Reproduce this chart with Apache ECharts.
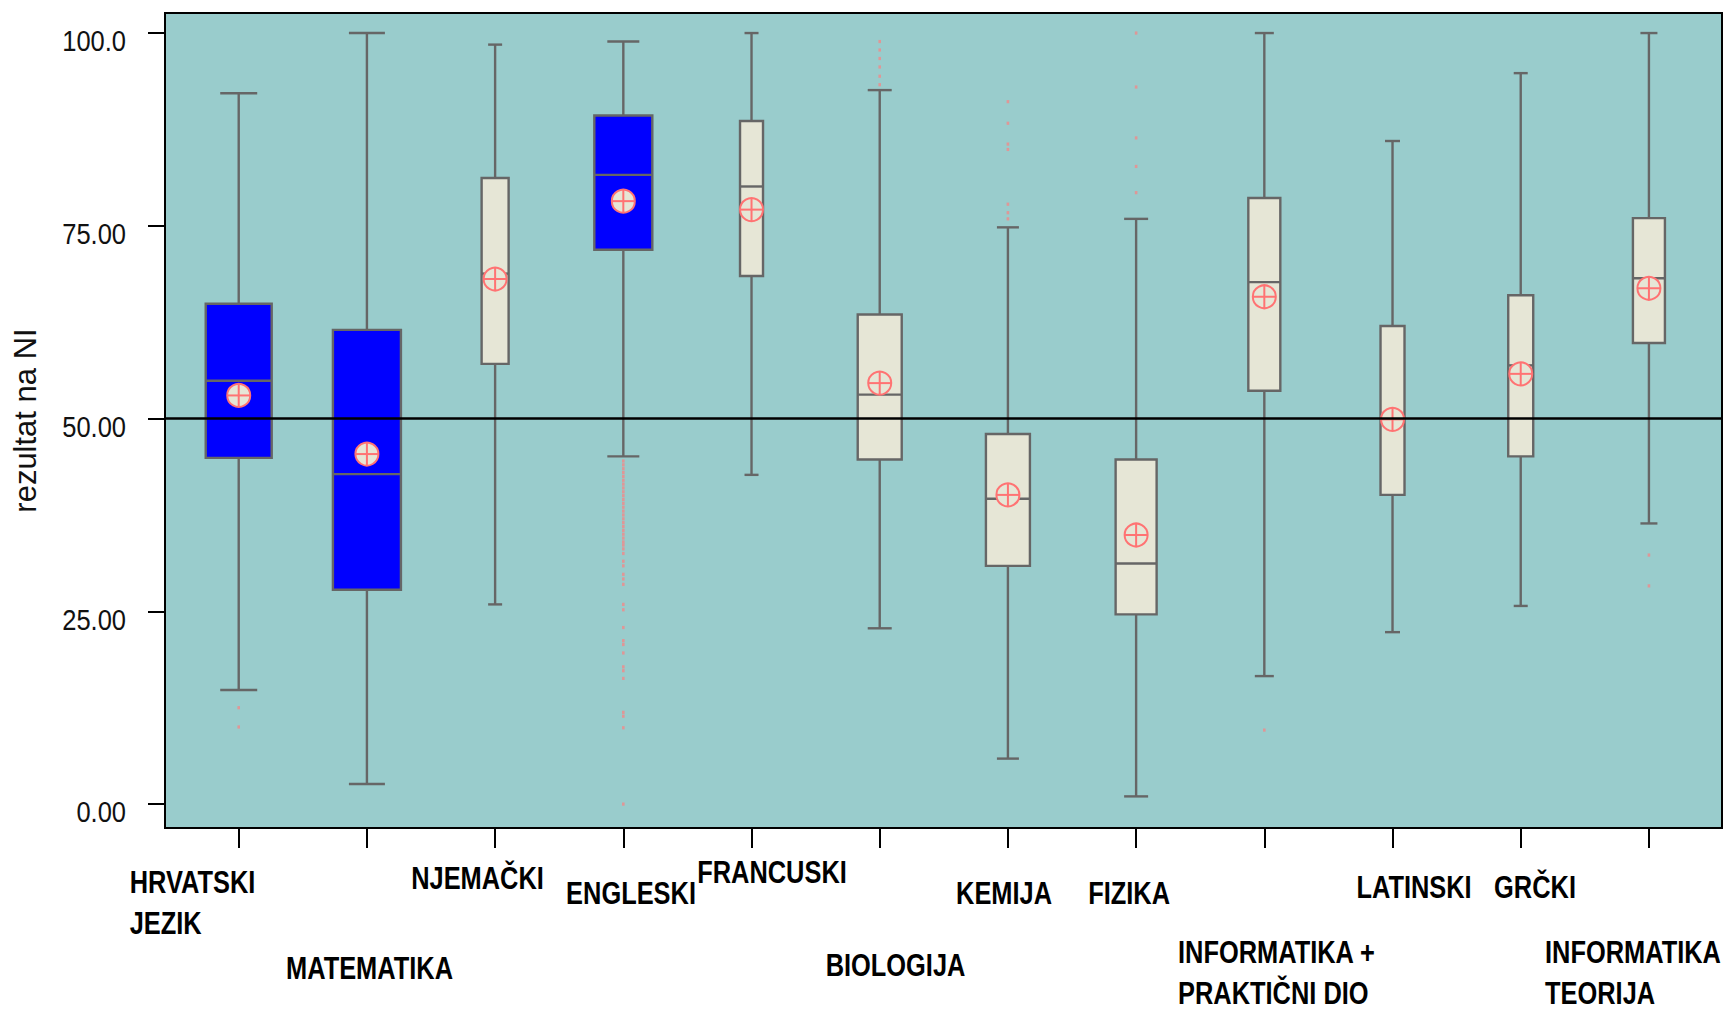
<!DOCTYPE html>
<html>
<head>
<meta charset="utf-8">
<script src="https://cdn.jsdelivr.net/npm/echarts@6/dist/echarts.min.js"></script>
<style>
  html, body { margin: 0; padding: 0; background: #ffffff; }
  #chart { width: 1729px; height: 1011px; }
</style>
</head>
<body>
<div id="chart"></div>
<script>
// ---------------- DATA ----------------
const categories = ['HRVATSKI\nJEZIK', 'MATEMATIKA', 'NJEMAČKI', 'ENGLESKI', 'FRANCUSKI', 'BIOLOGIJA',
  'KEMIJA', 'FIZIKA', 'INFORMATIKA +\nPRAKTIČNI DIO', 'LATINSKI', 'GRČKI', 'INFORMATIKA\nTEORIJA'];
const whiskerLow  = [14.8, 2.6, 25.9, 45.1, 42.7, 22.8, 5.9, 1.0, 16.6, 22.3, 25.7, 36.4];
const q1          = [44.9, 27.8, 57.1, 71.9, 68.5, 44.7, 30.9, 24.6, 53.6, 40.1, 45.1, 59.8];
const median      = [54.9, 42.8, 68.8, 81.6, 80.1, 53.1, 39.6, 31.2, 67.7, 49.8, 56.9, 68.2];
const q3          = [64.9, 61.5, 81.2, 89.3, 88.6, 63.5, 48.0, 44.7, 78.6, 62.0, 66.0, 76.0];
const whiskerHigh = [92.2, 100, 98.5, 98.9, 100, 92.6, 74.8, 75.9, 100, 86.0, 94.8, 100];
const means       = [53.0, 45.4, 68.1, 78.2, 77.1, 54.6, 40.1, 34.9, 65.8, 49.9, 55.8, 66.9];
const outliers = [
  [12.5, 10.0],
  [],
  [],
  [44.5, 44.0, 43.5, 43.0, 42.5, 42.0, 41.5, 41.0, 40.5, 40.0, 39.5, 39.0, 38.5, 38.0, 37.5, 37.0,
   36.5, 36.0, 35.5, 35.0, 34.5, 34.0, 33.6, 33.1, 32.5, 31.5, 30.9, 29.8, 29.2, 28.5, 25.9, 25.2,
   22.9, 21.2, 20.7, 19.6, 17.8, 17.3, 16.3, 11.9, 11.4, 9.9, 0],
  [],
  [98.9, 97.8, 96.7, 95.6, 94.4, 93.3],
  [91.1, 88.3, 85.6, 84.9, 77.8, 76.7, 75.9],
  [100, 93.0, 86.4, 82.7, 79.3],
  [9.6],
  [],
  [],
  [32.3, 28.3]
];
const referenceValue = 50;
const yTickValues = [0, 25, 50, 75, 100];
const yTickLabels = ['0.00', '25.00', '50.00', '75.00', '100.0'];
const yAxisTitle = 'rezultat na NI';

// ---------------- STYLE ----------------
const BLUE = '#0000ff', CREAM = '#e6e6d6', GREY = '#666666', PINK = '#ff7373', DOT = '#f08a8a';
const BOX_FILL = [BLUE, BLUE, CREAM, BLUE, CREAM, CREAM, CREAM, CREAM, CREAM, CREAM, CREAM, CREAM];
const BOX_W = [66, 68, 27, 58, 23, 44, 44, 41, 32, 24, 25, 32];
const CAP_W = [37, 36, 14, 32, 14, 24, 22, 24, 19, 15, 14, 17];
// label layout: [dx from tick, cap-top offset below plot bottom, align]
const LABEL_LAYOUT = [
  [-109, 44, 'left'], [2.6, 130, 'center'], [-17.6, 40, 'center'], [7.7, 55, 'center'],
  [20.5, 34, 'center'], [15.8, 127, 'center'], [-3.9, 55, 'center'], [-7, 55, 'center'],
  [-86.3, 114, 'left'], [21.5, 49, 'center'], [14.3, 49, 'center'], [-103.9, 114, 'left']
];
const FONT = "'Liberation Sans', Arial, sans-serif";
const NARROW_SCALE = 0.82;

// ---------------- CHART ----------------
const chart = echarts.init(document.getElementById('chart'), null, { renderer: 'svg' });

const boxData = categories.map((c, i) => [i, whiskerLow[i], q1[i], median[i], q3[i], whiskerHigh[i]]);
const meanData = categories.map((c, i) => [i, means[i]]);
const outlierData = [];
outliers.forEach((arr, i) => arr.forEach(v => outlierData.push([i, v])));
const labelData = categories.map((c, i) => [i, 0]);
const yLabelData = yTickValues.map(v => [0, v]);

function renderBox(params, api) {
  const i = params.dataIndex;
  const x = api.coord([api.value(0), 0])[0];
  const yLo = api.coord([0, api.value(1)])[1];
  const yQ1 = api.coord([0, api.value(2)])[1];
  const yMed = api.coord([0, api.value(3)])[1];
  const yQ3 = api.coord([0, api.value(4)])[1];
  const yHi = api.coord([0, api.value(5)])[1];
  const w = BOX_W[i], c = CAP_W[i];
  const ls = { stroke: GREY, lineWidth: 2.4 };
  return {
    type: 'group',
    children: [
      { type: 'line', shape: { x1: x, y1: yLo, x2: x, y2: yQ1 }, style: ls },
      { type: 'line', shape: { x1: x, y1: yQ3, x2: x, y2: yHi }, style: ls },
      { type: 'line', shape: { x1: x - c / 2, y1: yLo, x2: x + c / 2, y2: yLo }, style: ls },
      { type: 'line', shape: { x1: x - c / 2, y1: yHi, x2: x + c / 2, y2: yHi }, style: ls },
      { type: 'rect', shape: { x: x - w / 2, y: yQ3, width: w, height: yQ1 - yQ3 },
        style: { fill: BOX_FILL[i], stroke: GREY, lineWidth: 2.4 } },
      { type: 'line', shape: { x1: x - w / 2, y1: yMed, x2: x + w / 2, y2: yMed }, style: ls }
    ]
  };
}

function renderMean(params, api) {
  const p = api.coord([api.value(0), api.value(1)]);
  const r = 11.5;
  const st = { stroke: PINK, lineWidth: 2 };
  return {
    type: 'group',
    children: [
      { type: 'circle', shape: { cx: p[0], cy: p[1], r: r }, style: { fill: CREAM, stroke: PINK, lineWidth: 2 } },
      { type: 'line', shape: { x1: p[0] - r, y1: p[1], x2: p[0] + r, y2: p[1] }, style: st },
      { type: 'line', shape: { x1: p[0], y1: p[1] - r, x2: p[0], y2: p[1] + r }, style: st }
    ]
  };
}

function renderLabel(params, api) {
  const i = params.dataIndex;
  const x = api.coord([api.value(0), 0])[0];
  const bottom = params.coordSys.y + params.coordSys.height;
  const L = LABEL_LAYOUT[i];
  return {
    type: 'text',
    x: x + L[0],
    y: bottom + L[1] - 10,
    scaleX: NARROW_SCALE,
    style: {
      text: categories[i],
      fill: '#000',
      fontFamily: FONT,
      fontWeight: 'bold',
      fontSize: 31,
      lineHeight: 41,
      align: L[2],
      verticalAlign: 'top'
    }
  };
}

function renderYLabel(params, api) {
  const i = params.dataIndex;
  const y = api.coord([0, api.value(1)])[1];
  return {
    type: 'text',
    x: params.coordSys.x - 39,
    y: y - 7,
    scaleX: 0.85,
    style: {
      text: yTickLabels[i],
      fill: '#111',
      fontFamily: FONT,
      fontSize: 30,
      lineHeight: 30,
      align: 'right',
      verticalAlign: 'top'
    }
  };
}

const option = {
  animation: false,
  backgroundColor: '#ffffff',
  grid: {
    left: 165, right: 7, top: 13, bottom: 183,
    show: true, backgroundColor: '#99cccc', borderColor: '#000000', borderWidth: 2,
    containLabel: false
  },
  xAxis: {
    type: 'value', min: -0.575, max: 11.57,
    axisLine: { show: false, onZero: false },
    splitLine: { show: false },
    axisLabel: { show: false },
    axisTick: { show: true, inside: false, length: 20, lineStyle: { color: '#000', width: 2 },
      customValues: categories.map((c, i) => i) }
  },
  yAxis: {
    type: 'value', min: -3.1, max: 102.6,
    name: yAxisTitle, nameLocation: 'middle', nameRotate: 90, nameGap: 124,
    nameTextStyle: { fontFamily: FONT, fontSize: 31, color: '#111' },
    axisLine: { show: false, onZero: false },
    splitLine: { show: false },
    axisTick: { show: true, inside: false, length: 17, lineStyle: { color: '#000', width: 2 },
      customValues: yTickValues },
    axisLabel: { show: false }
  },
  series: [
    {
      type: 'custom', name: 'boxes', renderItem: renderBox, data: boxData, z: 2,
      encode: { x: 0, y: [1, 5] },
      markLine: {
        silent: true, symbol: ['none', 'none'], label: { show: false },
        lineStyle: { color: '#000', width: 2.5, type: 'solid' },
        data: [{ yAxis: referenceValue }]
      }
    },
    {
      type: 'scatter', name: 'outliers', data: outlierData, z: 3,
      symbol: 'rect', symbolSize: [2.6, 3.2], itemStyle: { color: DOT }, silent: true
    },
    { type: 'custom', name: 'means', renderItem: renderMean, data: meanData, z: 4 },
    { type: 'custom', name: 'labels', renderItem: renderLabel, data: labelData, z: 6, clip: false, silent: true },
    { type: 'custom', name: 'yLabels', renderItem: renderYLabel, data: yLabelData, z: 6, clip: false, silent: true }
  ]
};
chart.setOption(option);
</script>
</body>
</html>
